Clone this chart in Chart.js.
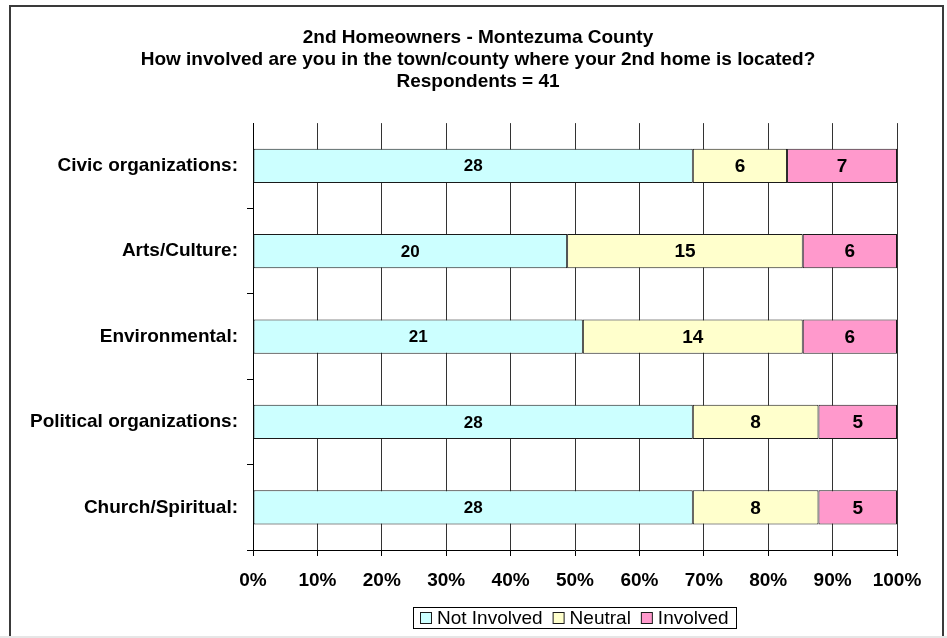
<!DOCTYPE html>
<html>
<head>
<meta charset="utf-8">
<title>2nd Homeowners - Montezuma County</title>
<script src="https://cdn.jsdelivr.net/npm/chart.js@4.4.1/dist/chart.umd.min.js"></script>
<style>
    body { margin: 0; background: #ffffff; }
    #chart-container { width: 947px; height: 638px; }
</style>
</head>
<body>
<div id="chart-container">
    <canvas id="graphCanvas" width="947" height="638"></canvas>
</div>
<script>
// survey answers, counts per organisation type
var categories = ['Civic organizations:', 'Arts/Culture:', 'Environmental:', 'Political organizations:', 'Church/Spiritual:'];
var notInvolved = [28, 20, 21, 28, 28];
var neutral = [6, 15, 14, 8, 8];
var involved = [7, 6, 6, 5, 5];
var seriesNames = ['Not Involved', 'Neutral', 'Involved'];
var seriesColors = ['#CCFFFF', '#FFFFCC', '#FF99CC'];
var titleLines = [
    '2nd Homeowners - Montezuma County',
    'How involved are you in the town/county where your 2nd home is located?',
    'Respondents = 41'
];

var FONT = "'Liberation Sans', Arial, sans-serif";

// turn counts into share of each row (100% stacked)
function toPercent(arr, i) {
    var total = notInvolved[i] + neutral[i] + involved[i];
    return arr[i] / total * 100;
}

var counts = [notInvolved, neutral, involved];
var datasets = [];
for (var s = 0; s < counts.length; s++) {
    var pct = [];
    for (var i = 0; i < categories.length; i++) {
        pct.push(toPercent(counts[s], i));
    }
    datasets.push({
        label: seriesNames[s],
        data: pct,
        counts: counts[s],
        backgroundColor: seriesColors[s],
        borderColor: '#1a1a1a',
        borderWidth: 1,
        borderSkipped: false,
        barPercentage: 0.4,
        categoryPercentage: 1.0
    });
}

// white background + the frame around the whole chart
var frame = {
    id: 'frame',
    beforeDraw: function (chart) {
        var ctx = chart.ctx;
        ctx.save();
        ctx.fillStyle = '#ffffff';
        ctx.fillRect(0, 0, chart.width, chart.height);
        ctx.strokeStyle = '#3a3a3a';
        ctx.lineWidth = 2;
        ctx.beginPath();
        ctx.moveTo(10, 636);
        ctx.lineTo(10, 6);
        ctx.lineTo(943, 6);
        ctx.lineTo(943, 636);
        ctx.stroke();
        ctx.fillStyle = '#e6e6e6';
        ctx.fillRect(0, 636, chart.width, 2);
        ctx.restore();
    }
};

// count printed in the middle of each segment
var segmentLabels = {
    id: 'segmentLabels',
    afterDatasetsDraw: function (chart) {
        var ctx = chart.ctx;
        ctx.save();
        ctx.fillStyle = '#000000';
        ctx.textAlign = 'center';
        ctx.textBaseline = 'middle';
        chart.data.datasets.forEach(function (ds, di) {
            var meta = chart.getDatasetMeta(di);
            ctx.font = 'bold ' + (di === 0 ? 17 : 19) + 'px ' + FONT;
            meta.data.forEach(function (bar, j) {
                var x = (bar.x + bar.base) / 2;
                ctx.fillText(String(ds.counts[j]), x, bar.y + 1);
            });
        });
        ctx.restore();
    }
};

// boxed legend under the axis
var boxLegend = {
    id: 'boxLegend',
    afterDraw: function (chart) {
        var ctx = chart.ctx;
        ctx.save();
        ctx.font = '19px ' + FONT;
        ctx.textBaseline = 'middle';
        ctx.strokeStyle = '#000000';
        ctx.lineWidth = 1;
        ctx.strokeRect(413.5, 607.5, 323, 21);
        var x = 420;
        var y = 618;
        chart.data.datasets.forEach(function (ds) {
            ctx.fillStyle = ds.backgroundColor;
            ctx.fillRect(x + 0.5, y - 5.5, 11, 11);
            ctx.strokeStyle = '#1a1a1a';
            ctx.strokeRect(x + 0.5, y - 5.5, 11, 11);
            ctx.fillStyle = '#000000';
            ctx.fillText(ds.label, x + 17, y + 1);
            x += 17 + ctx.measureText(ds.label).width + 10;
        });
        ctx.restore();
    }
};

var graphTarget = document.getElementById('graphCanvas');

var barGraph = new Chart(graphTarget, {
    type: 'bar',
    data: {
        labels: categories,
        datasets: datasets
    },
    plugins: [frame, segmentLabels, boxLegend],
    options: {
        indexAxis: 'y',
        responsive: false,
        animation: false,
        devicePixelRatio: 1,
        layout: {
            padding: { left: 9, right: 0, top: 0, bottom: 0 }
        },
        plugins: {
            legend: { display: false },
            tooltip: { enabled: false },
            title: {
                display: true,
                text: titleLines,
                color: '#000000',
                font: { family: FONT, size: 19, weight: 'bold', lineHeight: 1.16 },
                padding: { top: 27, bottom: 30 }
            }
        },
        scales: {
            x: {
                stacked: true,
                min: 0,
                max: 100,
                afterFit: function (scale) { scale.height = 88; },
                ticks: {
                    stepSize: 10,
                    color: '#000000',
                    padding: 13,
                    font: { family: FONT, size: 19, weight: 'bold' },
                    callback: function (v) { return v + '%'; }
                },
                grid: {
                    color: '#333333',
                    lineWidth: 1,
                    tickLength: 6,
                    tickColor: '#000000'
                },
                border: { color: '#000000', width: 1 }
            },
            y: {
                stacked: true,
                afterFit: function (scale) { scale.width = 244; },
                ticks: {
                    color: '#000000',
                    padding: 9,
                    font: { family: FONT, size: 19, weight: 'bold' }
                },
                grid: {
                    offset: true,
                    drawOnChartArea: false,
                    tickLength: 6,
                    tickColor: function (c) { return c.index === 0 ? 'rgba(0,0,0,0)' : '#000000'; }
                },
                border: { color: '#000000', width: 1 }
            },
            // empty strip on the right, keeps the plot clear of the frame
            yRight: {
                type: 'category',
                position: 'right',
                afterFit: function (scale) { scale.width = 50; },
                ticks: { display: false },
                grid: { display: false },
                border: { display: false }
            }
        }
    }
});
</script>
</body>
</html>
